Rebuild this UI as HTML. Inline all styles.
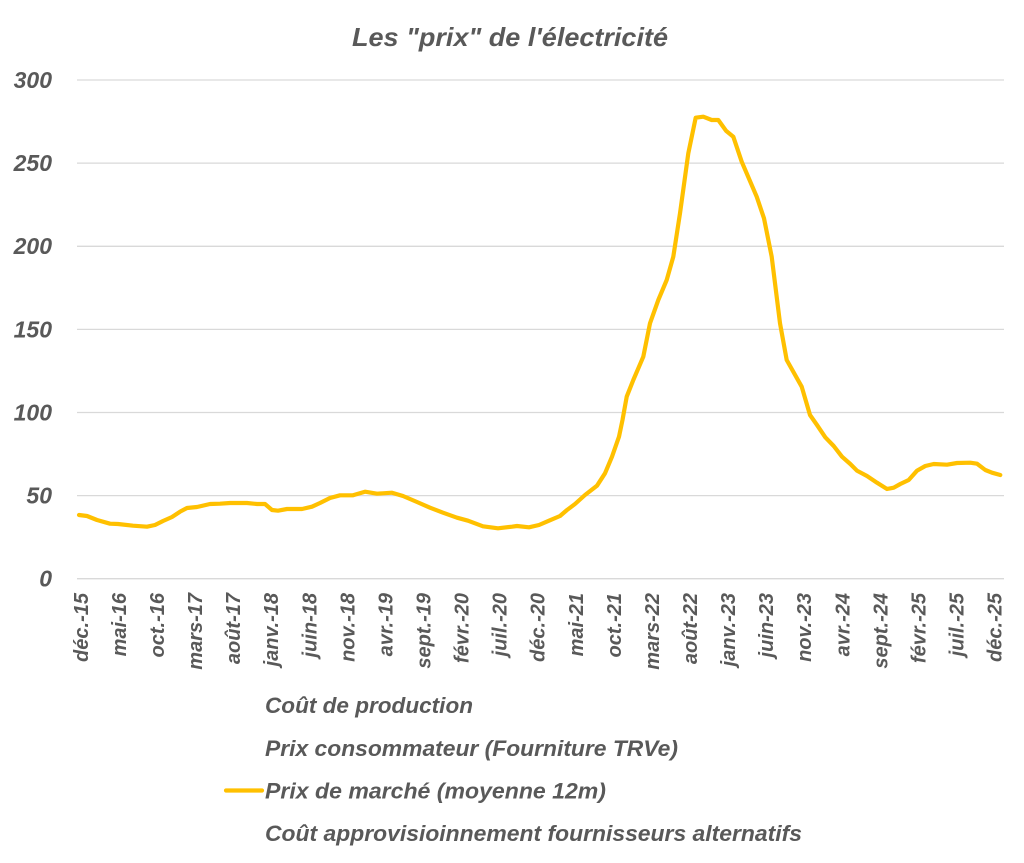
<!DOCTYPE html>
<html>
<head>
<meta charset="utf-8">
<style>
  html,body{margin:0;padding:0;background:#fff;}
  svg{display:block;}
  text{font-family:"Liberation Sans",Arial,sans-serif;font-weight:bold;font-style:italic;fill:#595959;}
</style>
</head>
<body>
<svg width="1024" height="863" viewBox="0 0 1024 863" xmlns="http://www.w3.org/2000/svg">
  <rect width="1024" height="863" fill="#fff"/>
  <!-- title -->
  <text x="352" y="46" font-size="26" textLength="316" lengthAdjust="spacingAndGlyphs">Les "prix" de l'électricité</text>

  <!-- gridlines -->
  <g stroke="#d9d9d9" stroke-width="1.3">
    <line x1="77" y1="80" x2="1004" y2="80"/>
    <line x1="77" y1="163.1" x2="1004" y2="163.1"/>
    <line x1="77" y1="246.3" x2="1004" y2="246.3"/>
    <line x1="77" y1="329.4" x2="1004" y2="329.4"/>
    <line x1="77" y1="412.5" x2="1004" y2="412.5"/>
    <line x1="77" y1="495.6" x2="1004" y2="495.6"/>
    <line x1="77" y1="578.7" x2="1004" y2="578.7"/>
  </g>

  <!-- y labels -->
  <g font-size="23" text-anchor="end">
    <text x="52" y="88">300</text>
    <text x="52" y="171">250</text>
    <text x="52" y="254">200</text>
    <text x="52" y="337.5">150</text>
    <text x="52" y="420.5">100</text>
    <text x="52" y="503.5">50</text>
    <text x="52" y="586.5">0</text>
  </g>

  <!-- x labels -->
  <g font-size="20" text-anchor="end">
    <text transform="translate(88,593) rotate(-90)">déc.-15</text>
    <text transform="translate(126,593) rotate(-90)">mai-16</text>
    <text transform="translate(164,593) rotate(-90)">oct.-16</text>
    <text transform="translate(202.1,593) rotate(-90)">mars-17</text>
    <text transform="translate(240.2,593) rotate(-90)">août-17</text>
    <text transform="translate(278.2,593) rotate(-90)">janv.-18</text>
    <text transform="translate(316.3,593) rotate(-90)">juin-18</text>
    <text transform="translate(354.4,593) rotate(-90)">nov.-18</text>
    <text transform="translate(392.5,593) rotate(-90)">avr.-19</text>
    <text transform="translate(430.5,593) rotate(-90)">sept.-19</text>
    <text transform="translate(468.6,593) rotate(-90)">févr.-20</text>
    <text transform="translate(506.7,593) rotate(-90)">juil.-20</text>
    <text transform="translate(544.7,593) rotate(-90)">déc.-20</text>
    <text transform="translate(582.8,593) rotate(-90)">mai-21</text>
    <text transform="translate(620.9,593) rotate(-90)">oct.-21</text>
    <text transform="translate(658.9,593) rotate(-90)">mars-22</text>
    <text transform="translate(697,593) rotate(-90)">août-22</text>
    <text transform="translate(735.1,593) rotate(-90)">janv.-23</text>
    <text transform="translate(773.2,593) rotate(-90)">juin-23</text>
    <text transform="translate(811.2,593) rotate(-90)">nov.-23</text>
    <text transform="translate(849.3,593) rotate(-90)">avr.-24</text>
    <text transform="translate(887.4,593) rotate(-90)">sept.-24</text>
    <text transform="translate(925.4,593) rotate(-90)">févr.-25</text>
    <text transform="translate(963.5,593) rotate(-90)">juil.-25</text>
    <text transform="translate(1001.5,593) rotate(-90)">déc.-25</text>
  </g>

  <!-- data line -->
  <polyline fill="none" stroke="#FFC000" stroke-width="4.2" stroke-linejoin="round" stroke-linecap="round"
    points="79,515 87,516 97,520 110,523.7 118,524 133,525.7 147,526.7 155,525 163,521 172,517 180,511.7 187,508 197,507 210,504 220,503.7 230,503 247,503 257,504 265,504 272,510 278,510.7 287,509 302,509 312,506.7 320,503 330,498 340,495.3 353,495.3 365,491.7 377,493.7 392,492.7 403,496 417,502 430,507.7 443,512.7 457,517.7 468,520.7 483,526.3 498,528.3 512,526.7 517,526 529,527.3 539,525 549,520.7 560,516 567,510 575,504 585,495 597,485.7 605,473.3 612,456.7 619,436.7 622.5,420 626.7,396.7 633.3,380 643.3,356.7 650,323.3 658.3,300 666.7,280 673.3,256.7 680,213.3 688.3,153.3 695.7,117.7 703.3,116.7 711.7,120 718.3,120 726,130.7 733.3,136.7 741.7,161.7 756.7,196.7 764,218.3 771.7,256.7 780,323.3 786.7,360 801.7,386.7 810,415 817,425 825.3,437.3 833.7,446 842,456.7 850.3,464 857,470.7 867,476 877,482.7 887,489 893.7,487.7 900.3,484 908.7,480 917,470.7 925.3,466 933.7,464 947,464.7 957,463 970.3,462.7 977,463.7 985.3,470 992,472.7 1000.3,475"/>

  <!-- legend -->
  <g font-size="22.5">
    <text x="265" y="713" textLength="208" lengthAdjust="spacingAndGlyphs">Coût de production</text>
    <text x="265" y="756" textLength="413" lengthAdjust="spacingAndGlyphs">Prix consommateur (Fourniture TRVe)</text>
    <text x="265" y="798.5" textLength="341" lengthAdjust="spacingAndGlyphs">Prix de marché (moyenne 12m)</text>
    <text x="265" y="841" textLength="537" lengthAdjust="spacingAndGlyphs">Coût approvisioinnement fournisseurs alternatifs</text>
  </g>
  <line x1="226" y1="790.5" x2="262" y2="790.5" stroke="#FFC000" stroke-width="4.2" stroke-linecap="round"/>
</svg>
</body>
</html>
